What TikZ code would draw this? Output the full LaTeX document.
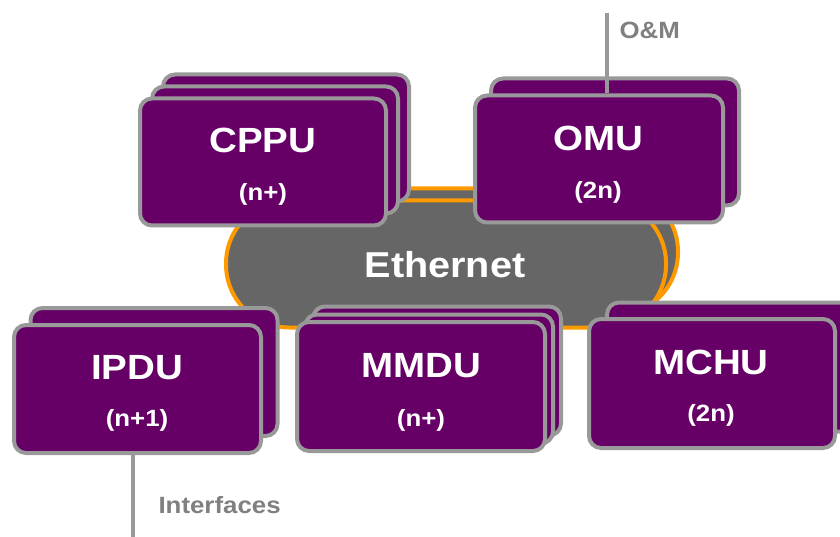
\documentclass[tikz,border=0pt]{standalone}
\usepackage{fontspec}
\setmainfont[FakeStretch=1.1]{Liberation Sans}
\definecolor{unitpurple}{HTML}{660066}
\definecolor{unitborder}{HTML}{999999}
\definecolor{ethgray}{HTML}{666666}
\definecolor{ethorange}{HTML}{FF9900}
\definecolor{lblgray}{HTML}{808080}
\tikzset{
  unitbox/.style={draw=unitborder, line width=4pt, fill=unitpurple, rounded corners=12pt,
    minimum width=246pt, minimum height=127pt, inner sep=0pt},
  ethbox/.style={draw=ethorange, line width=4pt, fill=ethgray, rounded corners=63pt,
    minimum width=440pt, minimum height=127pt, inner sep=0pt},
  bigtxt/.style={text=white, font=\bfseries\fontsize{35}{35}\selectfont},
  ethtxtstyle/.style={text=white, font=\bfseries\fontsize{36}{36}\selectfont},
  smalltxt/.style={text=white, font=\bfseries\fontsize{23.5}{23.5}\selectfont},
  lbltxt/.style={text=lblgray, font=\bfseries\fontsize{23.5}{23.5}\selectfont, anchor=west},
  conn/.style={draw=unitborder, line width=4pt}
}
\begin{document}
\begin{tikzpicture}[x=1pt,y=-1pt]
\useasboundingbox (0,0) rectangle (840,537);
% Ethernet (stacked)
\node[ethbox] (ethb) at (458,252) {};
\node[ethbox] (eth) at (446,264) {};
\node[ethtxtstyle] (ethtxt) at (445,265) {Ethernet};
% CPPU
\node[unitbox] (cppu3) at (286,138) {};
\node[unitbox] (cppu2) at (275,150) {};
\node[unitbox] (cppu) at (263,162) {};
\node[bigtxt] (cppu-t) at (263,140) {CPPU};
\node[smalltxt] (cppu-n) at (263,194) {(n+)};
% OMU
\node[unitbox, minimum width=248pt] (omu2) at (615,142) {};
\node[unitbox, minimum width=248pt] (omu) at (599,159) {};
\node[bigtxt] (omu-t) at (598,138) {OMU};
\node[smalltxt] (omu-n) at (598,192) {(2n)};
\coordinate (om) at (607,13);
\draw[conn] (om) -- (om |- omu.north);
\node[lbltxt] (omlbl) at (616,30) {O\&M};
% IPDU
\node[unitbox, minimum width=247pt, minimum height=128pt] (ipdu2) at (154,372) {};
\node[unitbox, minimum width=247pt, minimum height=128pt] (ipdu) at (137.5,389) {};
\node[bigtxt] (ipdu-t) at (137,368) {IPDU};
\node[smalltxt] (ipdu-n) at (137,420) {(n+1)};
\coordinate (ifc) at (133,537);
\draw[conn] (ipdu.south -| ifc) -- (ifc);
\node[lbltxt] (ifclbl) at (155,505) {Interfaces};
% MMDU
\node[unitbox, minimum width=248pt, minimum height=129pt] (mmdu3) at (437,371) {};
\node[unitbox, minimum width=248pt, minimum height=129pt] (mmdu2) at (429,379) {};
\node[unitbox, minimum width=248pt, minimum height=129pt] (mmdu) at (421,386.5) {};
\node[bigtxt] (mmdu-t) at (421,366) {MMDU};
\node[smalltxt] (mmdu-n) at (421,420) {(n+)};
% MCHU
\node[unitbox, minimum width=246pt, minimum height=129pt] (mchu2) at (730,367) {};
\node[unitbox, minimum width=246pt, minimum height=129pt] (mchu) at (712,383.5) {};
\node[bigtxt] (mchu-t) at (711,362) {MCHU};
\node[smalltxt] (mchu-n) at (711,415) {(2n)};
\end{tikzpicture}
\end{document}
